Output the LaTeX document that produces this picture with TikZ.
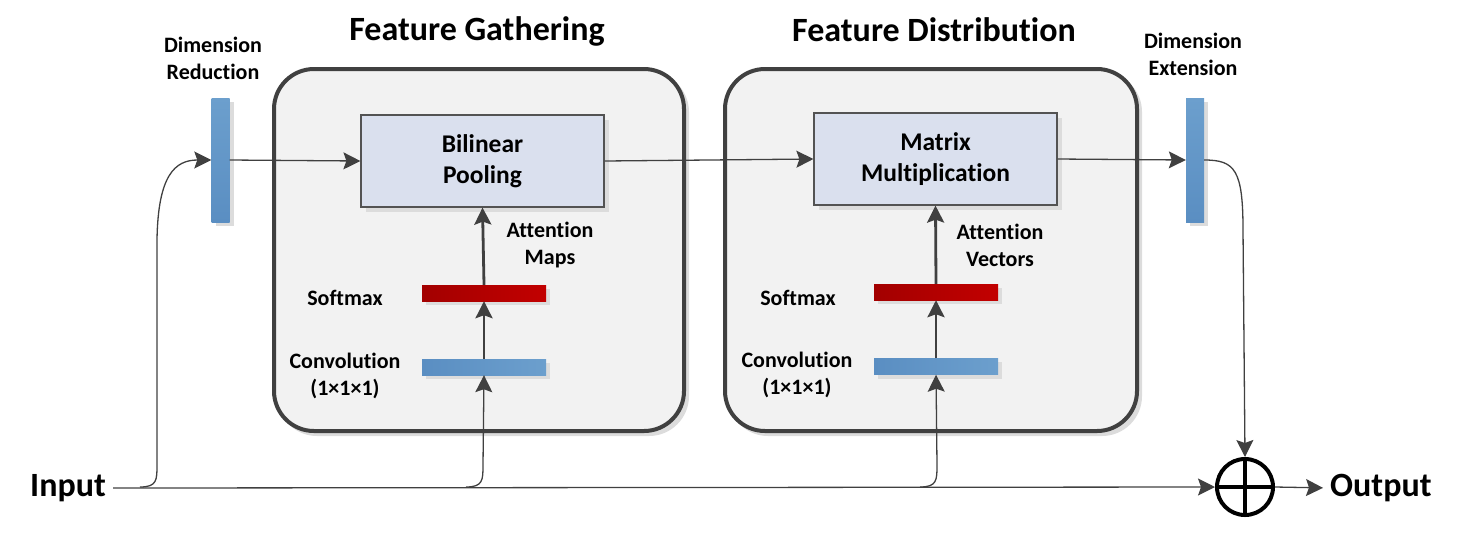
\documentclass[tikz,border=0pt]{standalone}
\usepackage{fontspec}
\setmainfont{Carlito}[Ligatures=NoCommon]
\usetikzlibrary{arrows.meta,calc}
\definecolor{linegray}{HTML}{404040}
\definecolor{boxfill}{HTML}{F2F2F2}
\definecolor{innerfill}{HTML}{DAE0EE}
\definecolor{shadowgray}{HTML}{DCDCDC}
\definecolor{blueA}{HTML}{5A8EC2}
\definecolor{blueB}{HTML}{6C9FCD}
\definecolor{redA}{HTML}{A30000}
\definecolor{redB}{HTML}{C20000}
\tikzset{
  tip/.style={-{Stealth[length=17pt,width=17pt,inset=3pt]}},
  thinline/.style={draw=linegray, line width=1.3pt},
  thickline/.style={draw=linegray, line width=2.8pt},
  groupbox/.style={draw=linegray, line width=4pt, fill=boxfill, rounded corners=40pt, minimum width=410pt, minimum height=362pt},
  opbox/.style={draw=linegray!90, line width=1.2pt, fill=innerfill, minimum width=243pt, minimum height=92pt, align=center, font=\fontsize{25.5}{31}\selectfont\bfseries},
  hbar/.style={minimum width=124pt, minimum height=16pt, inner sep=0pt},
  vbar/.style={minimum width=18pt, minimum height=124pt, inner sep=0pt, top color=blueB, bottom color=blueA},
  lbl/.style={align=center, font=\fontsize{22}{27}\selectfont\bfseries},
  title/.style={font=\fontsize{34}{38}\selectfont\bfseries},
  io/.style={font=\fontsize{34}{38}\selectfont\bfseries},
}
\begin{document}
\begin{tikzpicture}[x=1pt,y=-1pt]
\useasboundingbox (0,0) rectangle (1471,542);
% shadows of group boxes
\fill[shadowgray, rounded corners=40pt] (277,72) rectangle (689,436);
\fill[shadowgray, rounded corners=40pt] (728,72) rectangle (1142,436);
\node[groupbox] (g1) at (479,250) {};
\node[groupbox, minimum width=412pt] (g2) at (931,250) {};
\node[title] (t1) at (477,31) {Feature Gathering};
\node[title] (t2) at (934,30) {Feature Distribution};
% inner boxes with shadows
\fill[shadowgray] (366,120) rectangle (609,212);
\fill[shadowgray] (819,118) rectangle (1062,210);
\node[opbox] (bil) at (482.5,161) {Bilinear\\Pooling};
\node[opbox] (mat) at (935.5,159) {Matrix\\Multiplication};
% bars shadows
\fill[shadowgray] (216,102) rectangle (234,226);
\fill[shadowgray] (1190,102) rectangle (1208,226);
\fill[shadowgray] (426,289) rectangle (550,305);
\fill[shadowgray] (426,363) rectangle (550,379);
\fill[shadowgray] (878,288) rectangle (1002,304);
\fill[shadowgray] (878,362) rectangle (1002,379);
% bars
\node[vbar] (dimred) at (220.5,160) {};
\node[vbar] (dimext) at (1195,160) {};
\node[hbar, left color=redA, right color=redB] (soft1) at (484,293) {};
\node[hbar, left color=blueA, right color=blueB] (conv1) at (484,367) {};
\node[hbar, left color=redA, right color=redB] (soft2) at (936,292) {};
\node[hbar, left color=blueA, right color=blueB] (conv2) at (936,366.5) {};
% labels
\node[lbl] (ldr) at (213,58.5) {Dimension\\Reduction};
\node[lbl] (lde) at (1193,54.5) {Dimension\\Extension};
\node[lbl] (ls1) at (345,298) {Softmax};
\node[lbl] (lc1) at (345,376) {Convolution\\(1×1×1)};
\node[lbl] (la1) at (550,245.5) {Attention\\Maps};
\node[lbl] (ls2) at (798,298) {Softmax};
\node[lbl] (lc2) at (797,375) {Convolution\\(1×1×1)};
\node[lbl] (la2) at (1000,245.5) {Attention\\Vectors};
% input / output
\node[io, anchor=east, inner sep=0pt] (input) at (106,488) {Input};
\node[io, anchor=west, inner sep=0pt] (output) at (1330,488) {Output};
\node[circle, draw=black, line width=4pt, minimum size=56pt, inner sep=0pt] (oplus) at (1245,487) {};
\draw[black, line width=3.5pt] (oplus.north) -- (oplus.south) (oplus.west) -- (oplus.east);
% connectors
\draw[thinline, tip] (input.east) ++(7,0) -- (oplus.west);
\draw[thinline, tip] (140,487) .. controls (157,487) and (157,480) .. (157,465) -- (157,240) .. controls (158,175) and (175,160) .. (dimred.west);
\draw[thinline, tip] (466,487) .. controls (483,487) and (483,480) .. (483,465) -- (conv1.south);
\draw[thinline, tip] (920,487) .. controls (937,487) and (937,480) .. (937,465) -- (conv2.south);
\draw[thinline, tip] (dimred.east) -- (bil.west);
\draw[thinline, tip] (bil.east) -- (mat.west);
\draw[thinline, tip] (mat.east) -- (dimext.west);
\draw[thinline, tip] (dimext.east) .. controls (1235,160) and (1243,170) .. (1243,230) -- (oplus.north);
\draw[thinline, tip, shorten >=7pt] (oplus.east) -- (output.west);
\draw[thickline, tip] (conv1.north) -- (soft1.south);
\draw[thickline, tip] (soft1.north) -- (bil.south);
\draw[thickline, tip] (conv2.north) -- (soft2.south);
\draw[thickline, tip] (soft2.north) -- (mat.south);
\end{tikzpicture}
\end{document}
